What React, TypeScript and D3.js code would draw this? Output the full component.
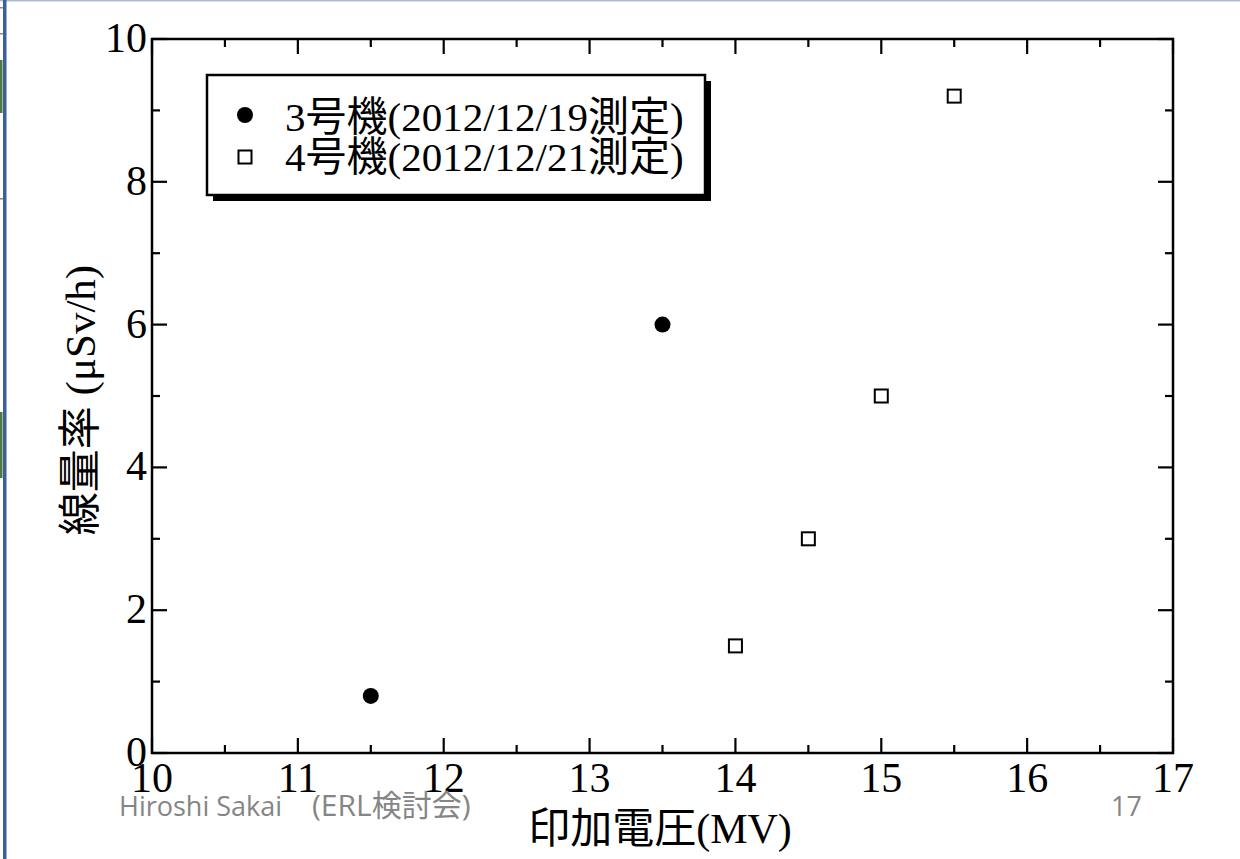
import { useEffect, useRef } from 'react';
import * as d3 from 'd3';

// 3号機 and 4号機 measurements
const unit3Voltage = [11.5, 13.5];
const unit3Dose = [0.8, 6.0];
const unit4Voltage = [14, 14.5, 15, 15.5];
const unit4Dose = [1.5, 3.0, 5.0, 9.2];

const xMajorTicks = [10, 11, 12, 13, 14, 15, 16, 17];
const yMajorTicks = [0, 2, 4, 6, 8, 10];

const legendLabels = ['3号機(2012/12/19測定)', '4号機(2012/12/21測定)'];
const xTitle = '印加電圧(MV)';
const yTitle = '線量率 (μSv/h)';
const footerName = 'Hiroshi Sakai';
const footerEvent = '(ERL検討会)';
const footerPage = '17';

const SERIF = '"Liberation Serif", "Noto Sans CJK JP", serif';
const SANS = '"Open Sans", "Noto Sans CJK JP", sans-serif';

export default function App() {
  const svgRef = useRef<SVGSVGElement>(null);

  useEffect(() => {
    const svg = d3.select(svgRef.current);
    svg.selectAll('*').remove();

    const width = 1240;
    const height = 859;
    const margin = { left: 152, top: 39, right: 67, bottom: 106 };

    svg.attr('width', width).attr('height', height);

    // slide chrome behind the chart
    svg.append('rect').attr('x', 0).attr('y', 0).attr('width', width).attr('height', height).attr('fill', '#fff');
    svg.append('rect').attr('x', 0).attr('y', 0).attr('width', width).attr('height', 1.5).attr('fill', '#a9bcd5');
    svg.append('rect').attr('x', 3).attr('y', 0).attr('width', 3.5).attr('height', height).attr('fill', '#3b6096');
    svg.append('rect').attr('x', 0).attr('y', 60).attr('width', 2.5).attr('height', 53).attr('fill', '#4e7a3c');
    svg.append('rect').attr('x', 0).attr('y', 412).attr('width', 2.5).attr('height', 66).attr('fill', '#4e7a3c');
    [7, 33, 198].forEach((yy) => {
      svg.append('rect').attr('x', 0).attr('y', yy).attr('width', 3).attr('height', 1.5).attr('fill', '#888');
    });

    const x = d3.scaleLinear().domain([10, 17]).range([margin.left, width - margin.right]);
    const y = d3.scaleLinear().domain([0, 10]).range([height - margin.bottom, margin.top]);

    const x0 = x.range()[0];
    const x1 = x.range()[1];
    const y0 = y.range()[0];
    const y1 = y.range()[1];

    const xMinor = d3.range(10.5, 17, 1);
    const yMinor = d3.range(1, 10, 2);

    const g = svg.append('g');

    // ticks, inward on all four sides
    const tickGroup = g.append('g').attr('stroke', '#000').attr('stroke-width', 2.2);
    const addXTicks = (vals: number[], len: number) => {
      vals.forEach((v) => {
        tickGroup.append('line').attr('x1', x(v)).attr('x2', x(v)).attr('y1', y0).attr('y2', y0 - len);
        tickGroup.append('line').attr('x1', x(v)).attr('x2', x(v)).attr('y1', y1).attr('y2', y1 + len);
      });
    };
    const addYTicks = (vals: number[], len: number) => {
      vals.forEach((v) => {
        tickGroup.append('line').attr('x1', x0).attr('x2', x0 + len).attr('y1', y(v)).attr('y2', y(v));
        tickGroup.append('line').attr('x1', x1).attr('x2', x1 - len).attr('y1', y(v)).attr('y2', y(v));
      });
    };
    addXTicks(xMajorTicks, 15);
    addXTicks(xMinor, 8);
    addYTicks(yMajorTicks, 15);
    addYTicks(yMinor, 8);

    g.append('rect')
      .attr('x', x0)
      .attr('y', y1)
      .attr('width', x1 - x0)
      .attr('height', y0 - y1)
      .attr('fill', 'none')
      .attr('stroke', '#000')
      .attr('stroke-width', 2.5);

    // tick labels
    g.selectAll('.xlab')
      .data(xMajorTicks)
      .enter()
      .append('text')
      .attr('x', (d) => x(d))
      .attr('y', y0 + 39)
      .attr('text-anchor', 'middle')
      .attr('font-family', SERIF)
      .attr('font-size', 42)
      .attr('fill', '#000')
      .text((d) => d);

    g.selectAll('.ylab')
      .data(yMajorTicks)
      .enter()
      .append('text')
      .attr('x', x0 - 5)
      .attr('y', (d) => y(d) + 13)
      .attr('text-anchor', 'end')
      .attr('font-family', SERIF)
      .attr('font-size', 42)
      .attr('fill', '#000')
      .text((d) => d);

    // axis titles
    g.append('text')
      .attr('x', 660)
      .attr('y', 843)
      .attr('text-anchor', 'middle')
      .attr('font-family', SERIF)
      .attr('font-size', 42)
      .attr('fill', '#000')
      .text(xTitle);

    g.append('text')
      .attr('transform', 'translate(95, 400) rotate(-90)')
      .attr('text-anchor', 'middle')
      .attr('font-family', SERIF)
      .attr('font-size', 43)
      .attr('fill', '#000')
      .text(yTitle);

    // data
    g.selectAll('.u3')
      .data(unit3Voltage.map((v, i) => [v, unit3Dose[i]]))
      .enter()
      .append('circle')
      .attr('cx', (d) => x(d[0]))
      .attr('cy', (d) => y(d[1]))
      .attr('r', 8)
      .attr('fill', '#000');

    const sq = 13;
    g.selectAll('.u4')
      .data(unit4Voltage.map((v, i) => [v, unit4Dose[i]]))
      .enter()
      .append('rect')
      .attr('x', (d) => x(d[0]) - sq / 2)
      .attr('y', (d) => y(d[1]) - sq / 2)
      .attr('width', sq)
      .attr('height', sq)
      .attr('fill', '#fff')
      .attr('stroke', '#000')
      .attr('stroke-width', 2);

    // legend with drop shadow
    const lg = svg.append('g');
    const lx = 207;
    const ly = 75;
    const lw = 498;
    const lh = 120;
    lg.append('rect').attr('x', lx + 6).attr('y', ly + 6).attr('width', lw).attr('height', lh).attr('fill', '#000');
    lg.append('rect')
      .attr('x', lx)
      .attr('y', ly)
      .attr('width', lw)
      .attr('height', lh)
      .attr('fill', '#fff')
      .attr('stroke', '#000')
      .attr('stroke-width', 2.5);
    lg.append('circle').attr('cx', 245).attr('cy', 115).attr('r', 8).attr('fill', '#000');
    lg.append('rect')
      .attr('x', 245 - sq / 2)
      .attr('y', 157 - sq / 2)
      .attr('width', sq)
      .attr('height', sq)
      .attr('fill', '#fff')
      .attr('stroke', '#000')
      .attr('stroke-width', 2);
    legendLabels.forEach((label, i) => {
      lg.append('text')
        .attr('x', 285)
        .attr('y', 131 + i * 40)
        .attr('font-family', SERIF)
        .attr('font-size', 41)
        .attr('fill', '#000')
        .text(label);
    });

    // slide footer
    const footer = svg.append('g')
      .attr('font-family', SANS)
      .attr('fill', '#858585');
    footer.append('text').attr('x', 119).attr('y', 816).attr('font-size', 27).text(footerName);
    footer.append('text').attr('x', 312).attr('y', 816).attr('font-size', 30).text(footerEvent);
    footer.append('text').attr('x', 1111).attr('y', 816).attr('font-size', 27).text(footerPage);
  }, []);

  return (
    <div style={{ position: 'absolute', left: 0, top: 0 }}>
      <svg ref={svgRef} style={{ display: 'block' }}></svg>
    </div>
  );
}
